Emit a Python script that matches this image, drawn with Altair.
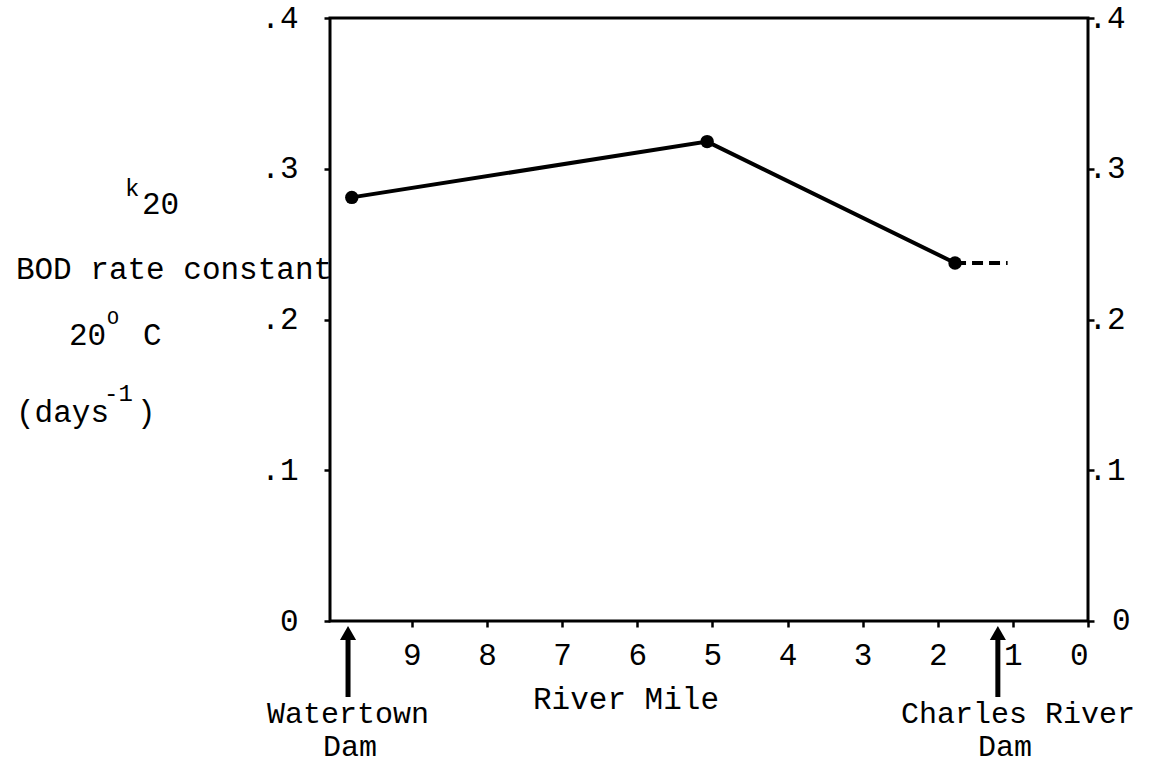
import altair as alt
import pandas as pd

# ---- data ----
river_mile = [9.80, 5.07, 1.77]
k20 = [0.281, 0.318, 0.2375]
dash_mile = [1.77, 1.07]
dash_k20 = [0.2375, 0.2375]
x_ticks = [9, 8, 7, 6, 5, 4, 3, 2, 1, 0]
y_ticks = [0, 0.1, 0.2, 0.3, 0.4]
dam_names = ["Watertown Dam", "Charles River Dam"]
dam_mile = [9.85, 1.20]

FONT = "Liberation Mono"
FS = 31
W, H = 758, 603
LEFT, TOP = 330, 18

pts = pd.DataFrame({"mile": river_mile, "k": k20})
dash = pd.DataFrame({"mile": dash_mile, "k": dash_k20})
dams = pd.DataFrame({"name": dam_names, "mile": dam_mile})
zero_lab = pd.DataFrame({"k": [y_ticks[0]], "lab": ["0"]})
one = pd.DataFrame({"a": [0]})

xs = alt.Scale(domain=[10.09, 0], nice=False, zero=False)
ys = alt.Scale(domain=[0, 0.4], nice=False)

label_expr_left = "datum.value == 0 ? '0' : replace(format(datum.value, '.1f'), '0.', '.')"
label_expr_right = "datum.value == 0 ? '' : replace(format(datum.value, '.1f'), '0.', '.')"

x_axis = alt.Axis(values=x_ticks, title=None, grid=False, domain=False,
                  tickSize=6, tickWidth=2.5, tickColor="black",
                  labelFont=FONT, labelFontSize=FS, labelColor="black",
                  labelPadding=13, labelAngle=0)
y_axis_left = alt.Axis(values=y_ticks, title=None, grid=False, domain=False,
                       tickSize=6, tickWidth=2.5, tickColor="black",
                       labelFont=FONT, labelFontSize=FS, labelColor="black",
                       labelPadding=26, labelExpr=label_expr_left)
y_axis_right = alt.Axis(values=y_ticks, title=None, grid=False, domain=False,
                        orient="right", tickSize=6, tickWidth=2.5, tickColor="black",
                        labelFont=FONT, labelFontSize=FS, labelColor="black",
                        labelPadding=-6, labelExpr=label_expr_right)

line = alt.Chart(pts).mark_line(color="black", strokeWidth=4).encode(
    x=alt.X("mile:Q", scale=xs, axis=x_axis),
    y=alt.Y("k:Q", scale=ys, axis=y_axis_left),
)
right_axis_layer = alt.Chart(pts).mark_point(opacity=0).encode(
    x=alt.X("mile:Q", scale=xs, axis=x_axis),
    y=alt.Y("k:Q", scale=ys, axis=y_axis_right),
)
dots = alt.Chart(pts).mark_circle(color="black", opacity=1, size=180).encode(
    x=alt.X("mile:Q", scale=xs, axis=x_axis),
    y=alt.Y("k:Q", scale=ys, axis=None))
dashed = alt.Chart(dash).mark_line(color="black", strokeWidth=4,
                                   strokeDash=[11, 6]).encode(
    x=alt.X("mile:Q", scale=xs, axis=x_axis),
    y=alt.Y("k:Q", scale=ys, axis=None))
right_zero = alt.Chart(zero_lab).mark_text(font=FONT, fontSize=FS, color="black",
                                           align="left", baseline="middle").encode(
    text="lab:N", x=alt.value(W + 24),
    y=alt.Y("k:Q", scale=ys, axis=None))

# dam arrows
shaft = alt.Chart(dams).mark_rule(color="black", strokeWidth=5).encode(
    x=alt.X("mile:Q", scale=xs, axis=x_axis),
    y=alt.value(697 - TOP), y2=alt.value(632 - TOP))
head = alt.Chart(dams).mark_point(shape="triangle-up", filled=True, color="black",
                                  opacity=1, size=260).encode(
    x=alt.X("mile:Q", scale=xs, axis=x_axis), y=alt.value(633 - TOP))

def txt(s, x, y, size=FS, align="left"):
    return alt.Chart(one).mark_text(text=s, font=FONT, fontSize=size, color="black",
                                    align=align, baseline="middle").encode(
        x=alt.value(x - LEFT), y=alt.value(y - TOP))

texts = [
    txt("k", 125, 189, 24),
    txt("20", 142, 205),
    txt("BOD rate constant", 174, 270, align="center"),
    txt("20", 69, 336),
    txt("O", 107, 318, 20),
    txt("C", 143, 336),
    txt("(days", 16, 413),
    txt("-1", 104, 394, 24),
    txt(")", 137, 413),
    txt("River Mile", 626, 700, align="center"),
    txt("Watertown", 348, 714, 30, align="center"),
    txt("Dam", 350, 747, 30, align="center"),
    txt("Charles River", 1018, 714, 30, align="center"),
    txt("Dam", 1005, 747, 30, align="center"),
]

chart = alt.layer(line, right_axis_layer, dashed, dots, right_zero, shaft, head,
                  *texts).resolve_axis(
    y="independent"
).properties(
    width=W, height=H,
    autosize=alt.AutoSizeParams(type="none"),
    padding={"left": LEFT, "top": TOP, "right": 1158 - LEFT - W, "bottom": 765 - TOP - H},
    background="white",
).configure_view(stroke="black", strokeWidth=3)

chart.save("out.html", embed_options={"renderer": "svg", "actions": False})
